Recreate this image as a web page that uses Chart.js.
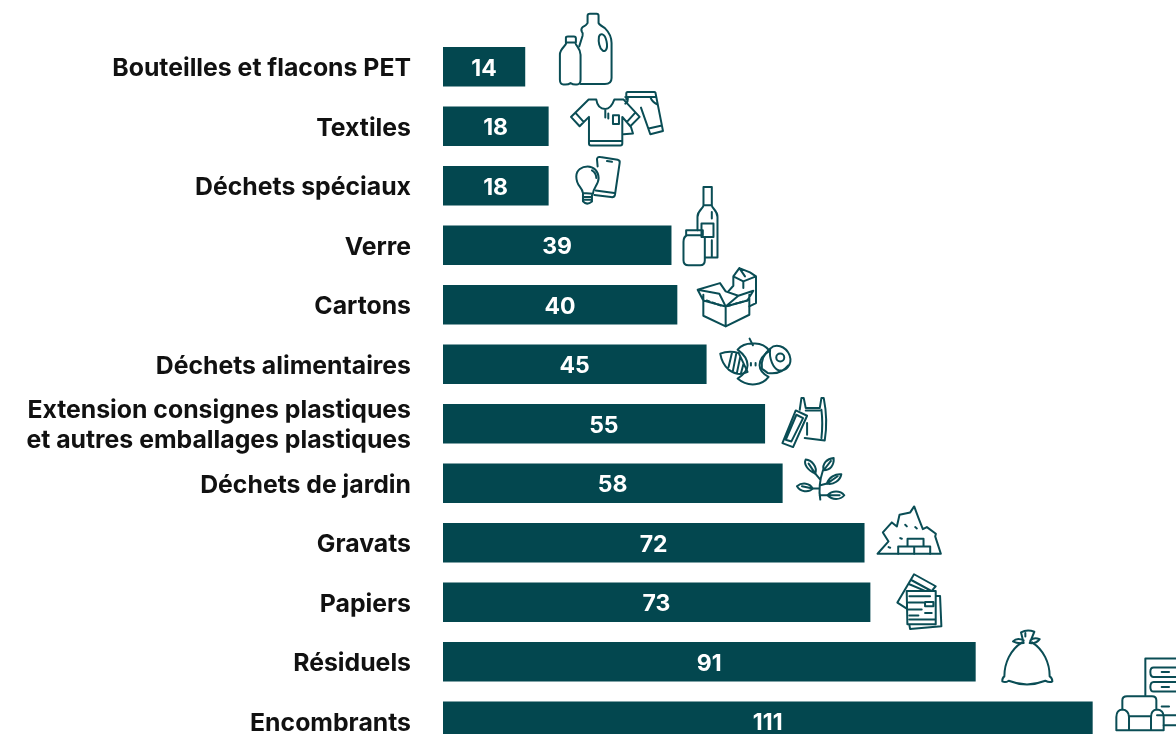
<!DOCTYPE html>
<html lang="fr">
<head>
<meta charset="utf-8">
<title>Déchets</title>
<script src="https://cdn.jsdelivr.net/npm/chart.js@4/dist/chart.umd.min.js"></script>
<style>
    html, body { margin: 0; padding: 0; background: #fff; overflow: hidden; }
    canvas { display: block; }
</style>
</head>
<body>
<canvas id="graficoDechets" width="1176" height="751"></canvas>
<script>
const categories = [
    'Bouteilles et flacons PET',
    'Textiles',
    'Déchets spéciaux',
    'Verre',
    'Cartons',
    'Déchets alimentaires',
    ['Extension consignes plastiques', 'et autres emballages plastiques'],
    'Déchets de jardin',
    'Gravats',
    'Papiers',
    'Résiduels',
    'Encombrants'
];
const valeurs = [14, 18, 18, 39, 40, 45, 55, 58, 72, 73, 91, 111];

const COULEUR_BARRE = '#03474f';
const COULEUR_ICONE = '#0a4d55';
const POLICE = 'Inter, sans-serif';

// Pictogrammes : tracés au tiers de pixel, placés par rapport au bout de chaque barre
const ICONES = [
    { dx: 15, dy: -67, traces: [
        'M78 128V114Q78 110 84 110H102Q108 110 108 116V128ZM80 128C78 140 60 145 60 165V240Q60 255 72 254Q85 255 92 250Q100 255 110 254Q122 255 122 240V165C122 145 108 140 106 128',
        'M143 70V48Q143 42 150 42H170Q176 42 176 48V70M143 70Q140 76 128 82Q122 88 126 96Q130 100 128 108L118 140M176 70Q180 76 195 85Q215 105 215 130V235Q215 253 195 253H122',
        'M177 112C180 98 195 100 200 125C205 150 195 158 188 152C178 145 175 125 177 112Z'
    ] },
    { dx: -8, dy: -126, traces: [
        'M145 298L92 350L118 378L146 350V430Q146 436 152 436H240Q246 436 246 430V350L270 378L298 350L250 298H222Q212 326 195 326Q172 326 168 298ZM146 422H246M105 337L130 365M285 337L260 365M195 326V352M204 340V355M218 345H236V371H218Z',
        'M258 298V280Q258 275 262 275H342Q346 275 346 280L368 392L330 402L302 322M255 290H346M262 290Q265 305 255 310M330 290Q335 305 350 312M325 385L365 376M272 380L278 400L250 402'
    ] },
    { dx: -8, dy: -186, traces: [
        'M172 500L170 478Q172 470 180 472L232 480Q240 482 238 490L224 585Q222 594 212 592L162 586M200 484L215 486M166 572L222 580',
        'M128 580C125 560 108 560 108 530C108 510 125 500 142 500C160 500 175 515 175 535C175 555 158 565 158 582ZM128 582V605Q140 618 155 605V582M130 592H155M130 600H155M155 512Q168 520 168 535'
    ] },
    { dx: -11, dy: -65, traces: [
        'M130 20H155V75H130ZM130 75C130 85 112 90 112 110V150M155 75C155 85 172 90 172 110V232H135M124 130H160V170H124ZM155 95V115M155 180V228',
        'M78 150H128V165H78ZM80 165Q70 170 70 185V240Q70 255 85 255H120Q134 255 134 240V170'
    ] },
    { dx: -17, dy: -125, traces: [
        'M130 345V408L197 440L268 405V345M197 440V380M113 330L130 362L197 380L178 342ZM113 330L180 310L197 335L235 348L197 380L262 362L280 333L235 348',
        'M205 335L220 318V290L238 265L270 278L288 290V370L268 380M220 290L250 305L288 290M250 305V325M238 265L255 290'
    ], pointilles: 'M140 362L190 380M205 378L262 362' },
    { dx: -46, dy: -184, traces: [
        'M180 520Q205 510 235 518L262 575Q235 590 205 568Q185 550 180 520ZM215 518L205 560M228 520L218 572M240 530L230 578M250 550L242 580',
        'M232 508Q250 488 280 490Q310 488 328 512Q298 530 298 555Q298 575 325 590Q310 610 285 612Q255 615 232 595Q262 575 262 555Q262 530 232 508M268 475L278 495M272 548V556M286 548V556',
        'M330 505C345 490 375 495 388 525C398 555 375 575 355 570C340 565 325 535 330 505ZM330 505Q300 530 305 565L322 578Q360 585 385 555M372 532A12 12 0 1 1 348 532A12 12 0 1 1 372 532Z'
    ] },
    { dx: 5, dy: -34, traces: [
        'M90 60L95 25H102L108 55H150L155 25H162Q175 90 165 152L105 145M108 62H150M155 60Q160 100 155 145M112 100V135',
        'M78 62L112 78L70 172L38 160ZM80 75L100 85L65 155L48 150Z'
    ] },
    { dx: -12, dy: -93, traces: [
        'M150 328C145 300 148 270 158 240M127 295H148M148 315H172M150 285L170 280M135 250L150 268',
        'M135 250C110 240 100 220 106 208C125 210 142 230 135 250ZM115 220L135 250',
        'M160 240C155 220 170 205 190 203C192 225 180 240 160 240ZM182 212L160 240',
        'M170 280C175 262 195 250 213 252C210 270 190 285 170 280ZM202 258L170 280',
        'M80 288C95 275 120 278 127 295C115 308 90 305 80 288ZM95 288L127 295',
        'M172 315C185 300 210 300 222 315C210 330 185 330 172 315ZM172 315H208'
    ] },
    { dx: -94, dy: -153, traces: [
        'M322 492H512L495 440L497 432L470 412L458 418L445 385L432 350L420 368L388 375L380 410L365 398L338 428L355 455Z',
        'M384 492V470H480V492M432 470V492M412 470V447H460V470M405 405L410 410M435 412L440 416M390 445L395 447M355 472L360 474'
    ] },
    { dx: -100, dy: -212, traces: [
        'M410 655L382 637L432 552L497 588L485 602M425 570L480 600M418 582L465 602',
        'M410 602H497V702H412ZM497 617L510 617L514 708L420 716L418 704M418 618H480M416 637H460M465 635H490V648H465ZM416 658H455M465 668H485M418 676H445M418 688H495'
    ] },
    { dx: 15, dy: -42, traces: [
        'M95 68C60 90 42 130 42 170M125 68C160 90 178 130 178 170M42 170Q35 175 36 185Q45 190 55 183Q110 205 165 183Q178 190 186 185Q186 175 178 170',
        'M100 70L92 38Q110 28 132 36L118 70M100 70Q80 72 68 65Q80 52 100 62M118 70Q138 72 148 58Q130 52 120 62M105 40V50'
    ] },
    { dx: -102, dy: -101, traces: [
        'M465 225V115H565M490 142H565M490 170H565M490 142Q480 142 480 155Q480 170 490 170M490 185H565M490 214H565M490 185Q480 185 480 200Q480 214 490 214M514 155H536M514 200H536M514 259H536M500 285H565M520 315H565',
        'M396 268V240Q396 228 410 228H485Q498 228 498 240V268M378 330V290Q378 270 396 268Q415 270 416 290V330ZM482 330V290Q482 270 500 268Q520 270 520 290V330ZM416 288H482M378 330H520'
    ] }
];

// Valeur au centre de la barre + pictogramme en bout de barre
const pluginEtiquettes = {
    id: 'etiquettes',
    afterLayout(chart) {
        // Les libellés de l'axe descendent de 2 px pour s'aligner sur les barres
        chart.scales.y.getLabelItems(chart.chartArea).forEach(item => {
            item.options.translation[1] += 2;
        });
    },
    afterDatasetsDraw(chart) {
        const ctx = chart.ctx;
        const barres = chart.getDatasetMeta(0).data;
        barres.forEach((barre, i) => {
            ctx.save();
            ctx.fillStyle = '#fff';
            ctx.font = '700 23px ' + POLICE;
            ctx.textAlign = 'center';
            ctx.textBaseline = 'middle';
            ctx.fillText(valeurs[i], (barre.base + barre.x) / 2, barre.y + 2);
            ctx.restore();
            dibujarIcono(ctx, ICONES[i], barre.x, barre.y);
        });
    }
};

function dibujarIcono(ctx, icono, finBarre, centreBarre) {
    ctx.save();
    ctx.translate(finBarre + icono.dx, centreBarre + icono.dy);
    ctx.scale(1 / 3, 1 / 3);
    ctx.strokeStyle = COULEUR_ICONE;
    ctx.lineWidth = 6;
    ctx.lineJoin = 'round';
    ctx.lineCap = 'round';
    icono.traces.forEach(trace => ctx.stroke(new Path2D(trace)));
    if (icono.pointilles) {
        ctx.setLineDash([9, 9]);
        ctx.stroke(new Path2D(icono.pointilles));
    }
    ctx.restore();
}

const ctx = document.getElementById('graficoDechets').getContext('2d');
new Chart(ctx, {
    type: 'bar',
    data: {
        labels: categories,
        datasets: [{
            data: valeurs,
            backgroundColor: COULEUR_BARRE,
            borderWidth: 0,
            barThickness: 39
        }]
    },
    options: {
        indexAxis: 'y',
        responsive: false,
        animation: false,
        layout: { padding: { top: 37 } },
        plugins: {
            legend: { display: false },
            tooltip: { enabled: false }
        },
        scales: {
            x: {
                display: false,
                min: 0,
                max: 125.3
            },
            y: {
                afterFit(axis) {
                    axis.width = 443;
                    axis.paddingTop = 0;
                    axis.paddingBottom = 0;
                },
                grid: { display: false, drawTicks: false },
                border: { display: false },
                ticks: {
                    color: '#111',
                    padding: 32,
                    autoSkip: false,
                    font: { family: POLICE, size: 24.8, weight: '700', lineHeight: '30px' }
                }
            }
        }
    },
    plugins: [pluginEtiquettes]
});
</script>
</body>
</html>
